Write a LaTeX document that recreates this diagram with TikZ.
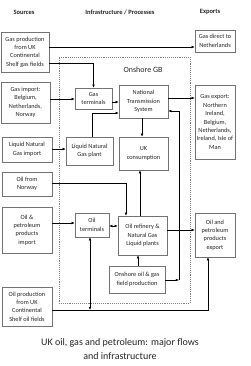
\documentclass[tikz,border=0pt]{standalone}
\usepackage{fontspec}
\setmainfont{Carlito}
\usetikzlibrary{arrows.meta}
\begin{document}
\begin{tikzpicture}[x=1pt,y=-1pt,
  box/.style={draw=black!55, line width=0.5pt, align=center, inner sep=0pt, font=\fontsize{6.3}{8.4}\selectfont, text=black!85},
  arr/.style={-{Latex[length=3.2pt,width=2.8pt]}, line width=0.9pt},
  darr/.style={{Latex[length=3.2pt,width=2.8pt]}-{Latex[length=3.2pt,width=2.8pt]}, line width=0.9pt},
  hdr/.style={font=\bfseries\fontsize{6.5}{8}\selectfont, text=black!85}]
\useasboundingbox (0,0) rectangle (250,366);
\fill[white] (0,0) rectangle (250,366);
% headers
\node[hdr] (hs) at (24,12) {Sources};
\node[hdr] (hi) at (120,12) {Infrastructure / Processes};
\node[hdr] (he) at (210,12) {Exports};
% onshore region
\node[draw=black!50, densely dotted, line width=0.9pt, minimum width=131pt, minimum height=246pt, inner sep=0pt] (gb) at (124.5,180) {};
\node[font=\fontsize{8}{9}\selectfont, text=black!85] (gbl) at (143,70) {Onshore GB};
% sources
\node[box, minimum width=48pt, minimum height=40pt] (gasuk) at (25,52) {Gas production\\from UK\\Continental\\Shelf gas fields};
\node[box, minimum width=49pt, minimum height=41pt] (gasimp) at (25.5,102.5) {Gas import:\\Belgium,\\Netherlands,\\Norway};
\node[box, minimum width=50pt, minimum height=25pt] (lngimp) at (27,149.5) {Liquid Natural\\Gas import};
\node[box, minimum width=50pt, minimum height=24pt] (oilnor) at (27,184) {Oil from\\Norway};
\node[box, minimum width=50pt, minimum height=46pt] (oilimp) at (27,230) {Oil \&\\petroleum\\products\\import};
\node[box, minimum width=50pt, minimum height=39pt] (oiluk) at (27,306.5) {Oil production\\from UK\\Continental\\Shelf oil fields};
% infrastructure
\node[box, minimum width=37pt, minimum height=21pt] (gasterm) at (93.5,98.5) {Gas\\terminals};
\node[box, minimum width=49pt, minimum height=33pt] (nts) at (143.5,101.5) {National\\Transmission\\System};
\node[box, minimum width=49pt, minimum height=33pt] (ukcons) at (143.5,153.5) {UK\\consumption};
\node[box, minimum width=47pt, minimum height=28pt] (lngplant) at (89.5,151) {Liquid Natural\\Gas plant};
\node[box, minimum width=34pt, minimum height=24pt] (oilterm) at (92,225) {Oil\\terminals};
\node[box, minimum width=49pt, minimum height=39pt] (refinery) at (142.5,235.5) {Oil refinery \&\\Natural Gas\\Liquid plants};
\node[box, minimum width=56pt, minimum height=27pt] (onshore) at (137,279.5) {Onshore oil \& gas\\field production};
% exports
\node[box, minimum width=40pt, minimum height=22pt] (gasnl) at (215,41) {Gas direct to\\Netherlands};
\node[box, minimum width=40pt, minimum height=74pt] (gasexp) at (215,122) {Gas export:\\Northern\\Ireland,\\Belgium,\\Netherlands,\\Ireland, Isle of\\Man};
\node[box, minimum width=40pt, minimum height=44pt] (oilexp) at (215,235) {Oil and\\petroleum\\products\\export};
% connectors
\draw[arr] (gasuk.east |- 0,47) -- (gasnl.west |- 0,47);
\draw[arr] (gasuk.east |- 0,63) -| (gasterm.north);
\draw[arr] (gasimp.east |- 0,99) -- (gasterm.west |- 0,99);
\draw[arr] (gasterm.east |- 0,102) -- (nts.west |- 0,102);
\draw[arr] (lngimp.east |- 0,149) -- (lngplant.west |- 0,149);
\draw[arr] (lngplant.north -| 92,0) |- (nts.west |- 0,113);
\draw[arr] (nts.east |- 0,98) -- (gasexp.west |- 0,98);
\draw[arr] (nts.south -| 142,0) -- (ukcons.north -| 142,0);
\coordinate (j1) at (179,280);
\draw[arr] (onshore.east |- j1) -- (j1);
\draw[arr] (j1) |- (nts.east |- 0,111);
\draw[arr] (oilnor.east |- 0,183) -| (refinery.north -| 126,0);
\draw[arr] (oilimp.east |- 0,223) -- (oilterm.west |- 0,223);
\draw[darr] (oilterm.east |- 0,226) -- (refinery.west |- 0,226);
\draw[arr] (refinery.north -| 140,0) -- (ukcons.south -| 140,0);
\draw[arr] (refinery.east |- 0,230) -- (oilexp.west |- 0,230);
\draw[arr] (onshore.north -| 138,0) -- (refinery.south -| 138,0);
\coordinate (j2) at (90,310);
\draw[arr] (oiluk.east |- j2) -| (oilexp.south -| 208,0);
\draw[darr] (oilterm.south -| j2) -- (j2);
% caption
\node[font=\fontsize{10}{14}\selectfont, align=center, text=black!85] (cap) at (120,349) {UK oil, gas and petroleum: major flows\\and infrastructure};
\end{tikzpicture}
\end{document}
